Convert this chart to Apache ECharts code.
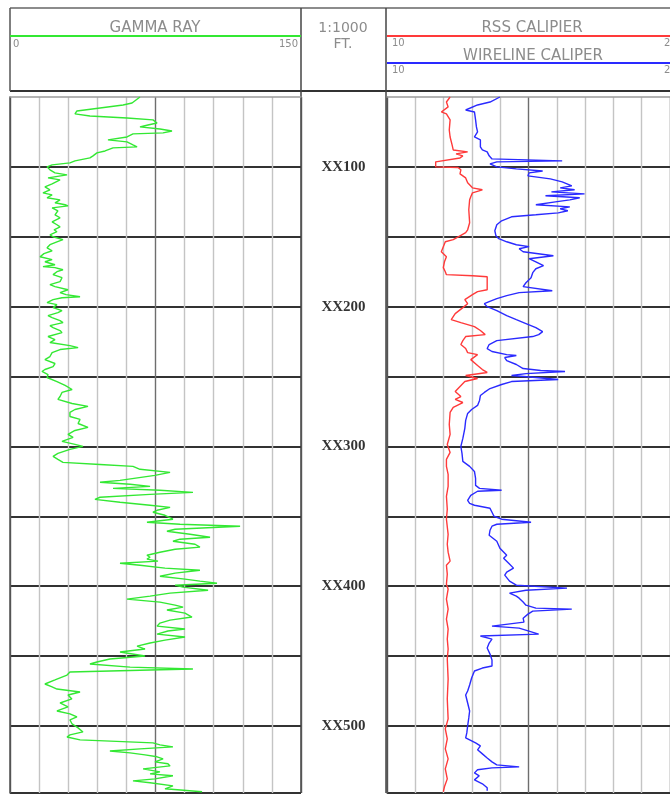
<!DOCTYPE html>
<html>
<head>
<meta charset="utf-8">
<script src="https://cdn.jsdelivr.net/npm/echarts@6/dist/echarts.min.js"></script>
<style>
  html, body { margin: 0; padding: 0; background: #fff; }
  #chart { width: 670px; height: 796px; }
</style>
</head>
<body>
<div id="chart"></div>
<script>
// Track scales and depth annotations
const grScale = [0, 150];
const calScale = [10, 20];
const depthRange = [50, 548];
const depthTicks = [100, 200, 300, 400, 500];
const depthLabels = ['XX100', 'XX200', 'XX300', 'XX400', 'XX500'];
const scaleLabel = '1:1000';
const unitLabel = 'FT.';
const curveNames = ['GAMMA RAY', 'RSS CALIPIER', 'WIRELINE CALIPER'];

// Gamma ray (API) by depth (ft)
const grDepth = [50,54.3,55.7,60,62.1,63.6,65,66.4,68.6,70,71.4,72.9,74.3,75.7,76.4,78.6,80.7,82.1,84.3,85.7,86.4,88.6,90,92.1,93.6,95.7,97.1,98.6,100,102.1,104.3,105.7,107.9,109.3,112.1,114.3,116.4,118.6,120,122.1,123.6,125.7,127.1,127.9,129.3,131.4,134.3,136.4,139.3,141.4,142.9,145,146.4,148.6,150,152.1,153.6,155.7,157.9,160,162.1,164.3,166.4,167.9,170,171.4,172.1,173.6,175,177.1,179.3,182.1,184.3,185.7,187.9,190,191.4,192.9,193.6,195,197.1,198.6,200.7,202.9,204.3,206.4,207.9,210,211.4,213.6,215,217.1,218.6,221.4,223.6,225.7,227.9,229.3,230.7,232.9,235.7,237.9,240.7,242.9,245,246.4,248.6,250.7,253.6,256.4,259.3,261.4,264.3,266.4,269.3,271.4,273.6,275.7,278.6,280.7,283.6,286.4,288.6,291.4,293.6,296.4,298.6,300,302.1,305,307.1,309.3,311.4,312.9,314.3,316.4,318.6,320.7,322.1,324.3,325.7,327.1,328.6,330,331.4,332.9,334.3,336.4,337.9,340,342.1,343.6,345.7,347.1,349.3,352.1,354.3,355.7,357.1,359.3,360.7,362.9,365,366.4,367.9,370,372.1,373.6,375.7,377.9,379.3,380.7,382.1,383.6,385,387.1,388.6,390.7,392.9,395,396.4,397.9,399.3,400.7,402.9,405,407.1,409.3,411.4,413.6,415,417.1,419.3,422.1,424.3,426.4,428.6,430.7,432.1,434.3,436.4,438.6,440.7,442.9,445,447.1,450,452.1,454.3,455.7,457.9,459.3,460,461.4,463.6,465,467.1,470,472.1,473.6,475.7,477.9,480.7,483.6,486.4,489.3,491.4,493.6,495.7,498.6,501.4,504.3,506.4,507.9,510,511.4,512.1,513.6,515,516.4,517.9,519.3,520.7,522.1,523.6,525.7,527.1,528.6,530.7,532.9,534.3,535.7,537.9,539.3,540.7,542.9,545,547.1];
const grValue = [67,62.9,58.3,34.5,33.5,41.2,60.3,73.7,75.8,71.1,67,77.3,83.5,78.9,63.4,60.3,50.5,60.3,63.4,65.5,53.1,49,44.8,42.8,41.2,33.5,30.9,21.7,19.1,20.6,23.2,29.4,19.6,25.8,21.7,18,20.6,17,21.7,19.1,25.8,23.2,28.4,29.9,21.7,24.7,23.2,25.8,21.7,24.2,25.8,22.7,24.2,20.6,22.2,27.3,24.2,20.6,19.1,21.7,17.5,15.5,21.7,18,23.2,17,23.2,27.3,24.2,22.2,26.8,25.8,20.6,23.2,29.9,25.8,28.9,36.1,26.8,22.2,19.1,24.2,22.2,26.8,24.7,19.6,21.7,25.8,27.3,20.6,22.2,25.8,26.8,19.6,23.2,20.6,30.9,35.1,25.8,21.7,20.6,18,23.2,22.2,18,16.5,19.6,19.1,24.2,28.4,32,26.8,25.8,24.7,32,40.2,33.5,30.9,30.9,36.1,35.1,40.2,33.5,29.9,32.5,26.8,33.5,37.6,30.9,24.7,22.2,24.7,27.3,46.4,63.4,67,82.5,74.7,73.7,56.7,46.4,61.9,72.2,53.1,77.3,94.3,72.2,46.4,43.8,56.7,72.2,82.5,75.8,73.7,79.9,84,70.6,87.6,118.6,85.1,80.9,92.8,103.1,87.6,84,95.4,97.9,85.1,77.3,70.6,72.2,70.6,76.3,56.7,67,79.9,97.9,85.1,77.3,90.2,97.9,106.7,85.1,89.2,102.1,82.5,72.2,60.3,77.3,85.1,89.2,80.9,90.2,93.8,82.5,77.3,75.8,90.2,81.4,75.8,90.2,79.9,72.2,65.5,69.6,56.7,69.6,51.5,44.8,41.2,61.9,94.3,72.2,30.9,29.4,29.4,23.2,18,21.7,24.2,36.1,29.9,31.9,25.8,29.9,24.2,30.9,34.5,30.9,32,35.1,37.6,30.9,29.4,36.1,36.1,73.7,77.3,84,67,51.5,61.9,69.6,75.8,78.9,74.7,81.4,82.5,68.6,77.3,72.2,84,74.7,63.4,72.2,84,79.9,99];

// RSS caliper (in) by depth (ft)
const rssDepth = [50,53.6,57.1,60.7,62.1,66.4,73.6,78.6,84.3,87.9,89.3,90.7,92.1,93.6,95,96.4,100,100.4,102.1,105,107.9,111.4,115,116.4,118.6,121.4,123.6,130.7,140,145,147.1,149.3,152.1,153.6,157.1,160.7,164.3,167.9,172.1,175,177.1,177.9,178.6,187.9,189.3,191.4,195,197.9,200.7,205,209.3,211.4,214.3,217.1,220,221.4,224.3,227.1,230,232.9,234.3,235.7,237.9,239.3,242.1,245,247.1,249.3,251.4,253.6,257.1,260.7,264.3,266.4,268.6,272.1,275.7,284.3,291.4,298.6,304.3,309.3,314.3,320,328.6,335.7,345,352.1,362.9,370,375.7,382.1,385,391.4,398.6,402.1,409.3,416.4,423.6,430.7,437.9,445,452.1,466.4,480.7,495,502.1,509.3,516.4,523.6,530.7,537.9,543.6,547.1];
const rssValue = [12.23,12.1,12.16,11.92,12.1,12.23,12.2,12.23,12.3,12.34,12.85,12.44,12.68,12.58,12.51,11.72,11.72,12.51,12.61,12.58,12.78,12.85,13.02,13.37,13.02,12.96,12.92,12.89,12.92,12.85,12.78,12.58,12.34,12.06,11.99,11.92,12.1,12.03,11.99,12.06,12.1,13.02,13.54,13.54,13.2,13.02,12.75,12.85,12.68,12.41,12.27,12.61,13.09,13.3,13.47,12.78,12.68,12.61,12.78,12.85,13.2,13.13,12.96,13.02,13.2,13.37,13.54,12.78,13.2,12.75,12.58,12.41,12.61,12.41,12.68,12.34,12.23,12.2,12.23,12.13,12.23,12.1,12.1,12.16,12.16,12.1,12.13,12.1,12.16,12.13,12.16,12.23,12.1,12.13,12.1,12.16,12.1,12.16,12.1,12.16,12.13,12.16,12.13,12.16,12.13,12.16,12.06,12.13,12.06,12.16,12.06,12.13,12.03,11.99];

// Wireline caliper (in) by depth (ft)
const wlDepth = [50,53.6,55.7,59.3,60.7,66.4,71.4,75,78.6,80.7,85.7,87.9,89.3,92.1,94.3,95.7,96.4,97.9,100,101.4,102.9,104.3,106.4,108.6,110.7,112.1,113.6,115,116.4,117.9,119.3,120.7,122.1,123.6,125,127.1,128.6,130,131.4,132.9,134.3,135.7,138.6,141.4,145.7,149.3,151.4,153.6,155.7,157.1,158.6,160.7,163.6,165.7,167.9,170.7,172.9,175.7,179.3,182.9,185.7,188.6,190,192.1,194.3,196.4,197.9,200,202.9,206.4,209.3,212.1,215,217.9,220,221.4,224.3,227.1,230,232.1,234.3,235,236.4,238.6,241.4,244.3,245.7,246.4,247.9,249.3,250.7,252.1,253.6,255.7,258.6,261.4,263.6,267.1,270.7,273.6,276.4,281.4,287.1,294.3,300,305,310.7,314.3,317.9,322.9,327.9,330,331.4,332.1,335,338.6,340.7,342.1,344.3,347.1,350,352.1,354.3,355.7,357.1,360,363.6,367.9,372.9,377.9,380,383.6,387.1,390,392.1,396.4,399.3,401.4,402.9,405,407.1,408.6,411.4,413.6,415.7,416.4,417.9,420,422.9,425.7,428.6,430,431.4,434.3,435.7,437.9,440.7,444.3,448.6,452.9,457.1,458.6,460.7,465.7,470.7,475,477.9,483.6,489.3,494.3,500,505,508.6,512.1,514.3,517.1,520,522.9,525.7,527.9,529.3,530,531.4,533.6,535.7,538.6,541.4,544.3,546.4];
const wlValue = [13.99,13.64,13.2,12.78,13.09,13.13,13.16,13.2,13.09,13.3,13.3,13.37,13.54,13.61,13.71,16.19,13.88,13.64,13.88,14.57,15.5,15.02,14.98,15.77,16.19,16.36,16.53,16.12,16.63,15.81,16.98,15.6,16.81,16.46,15.95,15.26,16.46,16.12,16.39,16.05,15.26,14.4,14.05,13.88,13.81,13.85,13.95,14.23,14.57,15.02,14.67,14.81,15.88,15.02,15.26,15.53,15.26,15.15,15.09,14.91,14.81,15.84,14.67,14.23,13.88,13.61,13.44,13.54,13.88,14.23,14.57,14.91,15.26,15.5,15.36,15.15,13.88,13.61,13.54,13.71,14.23,14.57,14.16,14.23,14.57,14.81,15.43,16.29,14.91,14.4,15.26,16.05,14.4,14.05,13.64,13.44,13.3,13.27,13.2,12.99,12.85,12.78,12.75,12.68,12.61,12.65,12.68,12.92,13.09,13.13,13.13,13.27,14.05,13.2,12.96,12.85,12.92,13.09,13.64,13.71,13.78,14.05,15.09,13.88,13.71,13.64,13.61,13.88,13.99,14.23,14.12,14.3,14.47,14.23,14.16,14.33,14.57,16.36,14.91,14.33,14.57,14.67,14.81,14.91,15.26,16.53,15.15,14.98,14.81,14.84,13.71,14.67,14.74,15.36,13.3,13.71,13.61,13.54,13.64,13.71,13.71,13.37,13.09,12.99,12.92,12.85,12.78,12.85,12.92,12.89,12.85,12.82,12.78,13.13,13.3,13.2,13.37,13.54,13.71,13.88,14.67,13.71,13.2,13.09,13.26,13.09,13.37,13.54,13.54];

const zip = (d, v) => d.map((x, i) => [v[i], x]);

// Track geometry
const TOP = 97, BOTTOM = 3;
const gridLeft = { left: 10, top: TOP, width: 291, bottom: BOTTOM };
const gridRight = { left: 387, top: TOP, width: 291, bottom: BOTTOM };
const gridDepth = { left: 301, top: TOP, width: 85, bottom: BOTTOM };

const light = '#c4c4c4';
const vColors = ['#555', light, light, light, light, '#6e6e6e', light, light, light, light, '#555'];

function depthAxis(gridIndex, showLine) {
  return {
    type: 'value', gridIndex, inverse: true,
    min: depthRange[0], max: depthRange[1], interval: 50,
    axisLine: { show: showLine, lineStyle: { color: '#555', width: 1.5 } },
    axisTick: { show: false }, axisLabel: { show: false },
    splitLine: { show: showLine, showMinLine: false, lineStyle: { color: '#333', width: 1.8 } }
  };
}
function trackAxis(gridIndex, scale, interval) {
  return {
    type: 'value', gridIndex, position: 'top',
    min: scale[0], max: scale[1], interval,
    axisLine: { show: true, onZero: false, lineStyle: { color: '#9a9a9a', width: 1.5 } },
    axisTick: { show: false }, axisLabel: { show: false },
    splitLine: { show: true, lineStyle: { color: vColors, width: 1.4 } }
  };
}

const hdrFont = { fontFamily: '"DejaVu Sans", "Liberation Sans", sans-serif', fill: '#8c8c8c' };
function txt(x, y, text, size, align, extra) {
  return { type: 'text', x, y, silent: true,
    style: Object.assign({ text, fontSize: size, align, verticalAlign: 'middle' }, hdrFont, extra || {}) };
}
function seg(x1, y1, x2, y2, color, w) {
  return { type: 'line', silent: true, shape: { x1, y1, x2, y2 }, style: { stroke: color, lineWidth: w } };
}

const graphic = [
  // header frame
  seg(10, 8, 670, 8, '#666', 1.5),
  seg(10, 91, 670, 91, '#333', 2),
  seg(10, 8, 10, 91, '#555', 1.5),
  seg(301, 8, 301, 793, '#444', 1.5),
  seg(386, 8, 386, 793, '#444', 1.5),
  // curve keys
  seg(10, 36, 301, 36, '#33e833', 2),
  seg(387, 36, 670, 36, '#ff3a3a', 2),
  seg(387, 63, 670, 63, '#2a2aff', 2),
  txt(155, 28, curveNames[0], 15, 'center'),
  txt(13, 44, String(grScale[0]), 10, 'left'),
  txt(298, 44, String(grScale[1]), 10, 'right'),
  txt(343, 28, scaleLabel, 14, 'center'),
  txt(343, 44, unitLabel, 14, 'center'),
  txt(532, 28, curveNames[1], 15, 'center'),
  txt(392, 43, String(calScale[0]), 10, 'left'),
  txt(664, 43, String(calScale[1]), 10, 'left'),
  txt(533, 56, curveNames[2], 15, 'center'),
  txt(392, 70, String(calScale[0]), 10, 'left'),
  txt(664, 70, String(calScale[1]), 10, 'left')
];

const chart = echarts.init(document.getElementById('chart'), null, { renderer: 'canvas' });
chart.setOption({
  animation: false,
  backgroundColor: '#fff',
  grid: [gridLeft, gridRight, gridDepth],
  xAxis: [
    trackAxis(0, grScale, 15),
    trackAxis(1, calScale, 1),
    { type: 'value', gridIndex: 2, min: 0, max: 1, show: false }
  ],
  yAxis: [depthAxis(0, true), depthAxis(1, true), Object.assign(depthAxis(2, false), { show: false })],
  graphic,
  series: [
    { name: curveNames[0], type: 'line', xAxisIndex: 0, yAxisIndex: 0, data: zip(grDepth, grValue),
      showSymbol: false, lineStyle: { color: '#33e833', width: 1.4 } },
    { name: curveNames[1], type: 'line', xAxisIndex: 1, yAxisIndex: 1, data: zip(rssDepth, rssValue),
      showSymbol: false, lineStyle: { color: '#ff3a3a', width: 1.4 } },
    { name: curveNames[2], type: 'line', xAxisIndex: 1, yAxisIndex: 1, data: zip(wlDepth, wlValue),
      showSymbol: false, lineStyle: { color: '#2a2aff', width: 1.4 } },
    { type: 'scatter', xAxisIndex: 2, yAxisIndex: 2, symbolSize: 0,
      data: depthTicks.map((d, i) => [0.5, d, depthLabels[i]]),
      label: { show: true, position: 'inside', formatter: p => p.data[2],
        fontFamily: '"Liberation Serif", serif', fontWeight: 'bold', fontSize: 15, color: '#000' } }
  ]
});
</script>
</body>
</html>
